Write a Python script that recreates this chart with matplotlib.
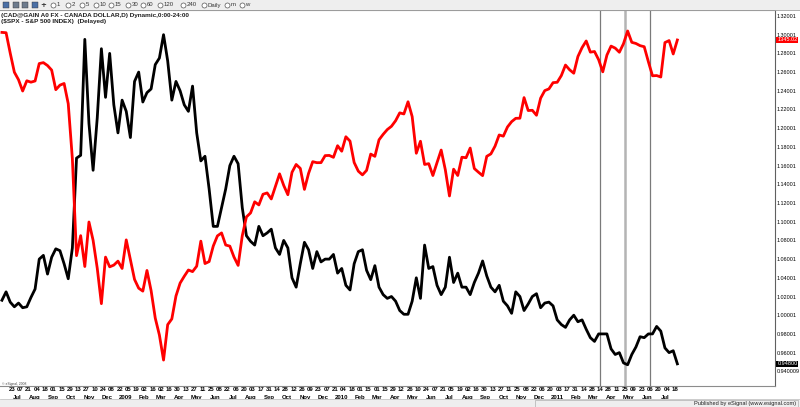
import numpy as np
import pandas as pd
import matplotlib
matplotlib.use("Agg")
import matplotlib.pyplot as plt
import matplotlib.dates as mdates
from matplotlib.patches import Rectangle
from matplotlib.lines import Line2D

# weekly closes, Fridays 2008-06-06 .. 2011-07-22
weeks = pd.date_range("2008-06-06", "2011-07-22", freq="W-FRI")

# USD/CAD (black, right axis)
cad_2008 = [1.0160, 1.0250, 1.0140, 1.0090,
            1.0130, 1.0080, 1.0090, 1.0190,
            1.0280, 1.0600, 1.0640, 1.0440, 1.0620,
            1.0710, 1.0690, 1.0550, 1.0390,
            1.0720, 1.1680, 1.1710, 1.2950, 1.2050,
            1.1550, 1.2110, 1.2850, 1.2330,
            1.2800, 1.2250, 1.1950, 1.2300]
cad_2009 = [1.2180, 1.1900, 1.2500, 1.2600, 1.2280,
            1.2380, 1.2420, 1.2680, 1.2750,
            1.3000, 1.2720, 1.2300, 1.2500,
            1.2400, 1.2250, 1.2180, 1.2450,
            1.1950, 1.1650, 1.1700, 1.1350, 1.0950,
            1.0950, 1.1150, 1.1350, 1.1600,
            1.1700, 1.1620, 1.1150, 1.0850, 1.0790,
            1.0750, 1.0950, 1.0850, 1.0880,
            1.0920, 1.0720, 1.0650, 1.0800,
            1.0720, 1.0400, 1.0300, 1.0550, 1.0780,
            1.0700, 1.0500, 1.0680, 1.0570,
            1.0600, 1.0600, 1.0650, 1.0450]
cad_2010 = [1.0500, 1.0320, 1.0270, 1.0550, 1.0680,
            1.0700, 1.0480, 1.0380, 1.0530,
            1.0300, 1.0220, 1.0180, 1.0200,
            1.0150, 1.0050, 1.0010, 1.0010, 1.0150,
            1.0400, 1.0180, 1.0750, 1.0500,
            1.0520, 1.0320, 1.0220, 1.0300,
            1.0620, 1.0350, 1.0450, 1.0300, 1.0300,
            1.0220, 1.0350, 1.0450, 1.0580,
            1.0420, 1.0300, 1.0250, 1.0320,
            1.0150, 1.0100, 1.0020, 1.0250, 1.0200,
            1.0050, 1.0120, 1.0200, 1.0230,
            1.0080, 1.0130, 1.0140, 1.0100, 0.9950]
cad_2011 = [0.9900, 0.9870, 0.9950, 1.0000,
            0.9930, 0.9950, 0.9850, 0.9760,
            0.9720, 0.9800, 0.9800, 0.9800,
            0.9640, 0.9580, 0.9600, 0.9490, 0.9470,
            0.9580, 0.9660, 0.9770, 0.9760,
            0.9800, 0.9800, 0.9880, 0.9830,
            0.9650, 0.9600, 0.9620, 0.9480]

# S&P 500 (red, overlay scale)
spx_2008 = [1360.7, 1360.0, 1317.9, 1278.4,
            1262.9, 1239.5, 1260.7, 1257.8,
            1260.3, 1296.3, 1298.2, 1292.2, 1282.8,
            1242.3, 1251.7, 1255.1, 1213.3,
            1099.2, 899.2, 940.6, 876.8, 968.8,
            931.0, 873.3, 800.0, 896.2,
            876.1, 879.7, 887.9, 872.8]
spx_2009 = [931.8, 890.4, 850.1, 832.0, 825.9,
            868.6, 826.8, 770.1, 735.1,
            683.4, 756.6, 768.5, 815.9,
            842.5, 856.6, 869.6, 866.2,
            877.5, 929.2, 882.9, 887.0, 919.1,
            940.1, 946.2, 921.2, 918.9,
            896.4, 879.1, 940.4, 979.3, 987.5,
            1010.5, 1004.1, 1026.1, 1028.9,
            1016.4, 1042.7, 1068.3, 1044.4,
            1025.2, 1071.5, 1087.7, 1079.6, 1036.2,
            1069.3, 1093.5, 1091.4, 1091.5,
            1106.0, 1106.4, 1102.5, 1126.5]
spx_2010 = [1115.1, 1145.0, 1136.0, 1091.8, 1073.9,
            1066.2, 1075.5, 1109.2, 1104.5,
            1138.7, 1150.0, 1159.9, 1166.6,
            1178.1, 1194.4, 1192.1, 1217.3, 1186.7,
            1110.9, 1135.7, 1087.7, 1089.4,
            1064.9, 1091.6, 1117.5, 1076.8,
            1022.6, 1078.0, 1064.9, 1102.7, 1101.6,
            1121.6, 1079.3, 1071.7, 1064.6,
            1104.5, 1109.6, 1125.6, 1148.7,
            1146.2, 1165.2, 1176.2, 1183.1, 1183.3,
            1225.9, 1199.2, 1199.7, 1189.4,
            1224.7, 1240.4, 1243.9, 1256.8, 1257.6]
spx_2011 = [1271.5, 1293.2, 1283.4, 1276.3,
            1310.9, 1329.2, 1343.0, 1319.9,
            1321.2, 1304.3, 1279.2, 1313.8,
            1332.4, 1328.2, 1319.7, 1337.4, 1363.6,
            1340.2, 1337.8, 1333.3, 1331.1,
            1300.2, 1271.0, 1271.5, 1268.5,
            1339.7, 1343.8, 1316.1, 1345.02]

cad = cad_2008 + cad_2009 + cad_2010 + cad_2011
spx = spx_2008 + spx_2009 + spx_2010 + spx_2011

ytick_vals = [1.32001, 1.30001, 1.28001, 1.26001, 1.24001, 1.22001, 1.20001,
              1.18001, 1.16001, 1.14001, 1.12001, 1.10001, 1.08001, 1.06001,
              1.04001, 1.02001, 1.00001, 0.98001, 0.96001, 0.940009]
ytick_labels = ["1.32001", "1.30001", "1.28001", "1.26001", "1.24001", "1.22001",
                "1.20001", "1.18001", "1.16001", "1.14001", "1.12001", "1.10001",
                "1.08001", "1.06001", "1.04001", "1.02001", "1.00001", "0.98001",
                "0.96001", "0.940009"]
marker_dates = ["2011-03-14", "2011-04-25", "2011-06-06"]
toolbar_items = ["1", "2", "5", "10", "15", "30", "60", "120", "240", "Daily", "m", "w"]

W, H = 800, 407
fig = plt.figure(figsize=(8, 4.07), dpi=100)
fig.patch.set_facecolor("white")
FONT = "Liberation Sans"


def fx(px):
    return px / W


def fy(py):
    return 1 - py / H


top, bot, right = 10, 386, 775
ax = fig.add_axes([0, fy(bot), fx(right), (bot - top) / H])
ax.set_facecolor("white")

ax.plot(weeks, cad, color="black", lw=2.0)
ax.set_ylim(0.9243, 1.3264)

# x scale: Jun 23 2008 at x=12, Jul 18 2011 at x=675
d0 = mdates.date2num(pd.Timestamp("2008-06-23"))
d1 = mdates.date2num(pd.Timestamp("2011-07-18"))
ppd = (675 - 12) / (d1 - d0)
ax.set_xlim(d0 - 12 / ppd, d1 + (right - 675) / ppd)

for i, d in enumerate(marker_dates):
    if i == 1:
        ax.axvline(pd.Timestamp(d), color="#b4b4b4", lw=1.8, zorder=0)
    else:
        ax.axvline(pd.Timestamp(d), color="#7a7a7a", lw=0.9, zorder=0)

ax2 = ax.twinx()
ax2.plot(weeks, spx, color="#ff0000", lw=2.0)
ax2.set_ylim(629.8, 1407.0)
ax2.set_yticks([])
ax2.set_xlim(ax.get_xlim())
for s in ax2.spines.values():
    s.set_visible(False)

ax.yaxis.tick_right()
ax.set_yticks(ytick_vals)
ax.set_yticklabels(ytick_labels, fontsize=3.9, family=FONT)
ax.tick_params(axis="y", length=0, pad=1.0)

# date labels: day numbers every two weeks, month names below
major = pd.date_range("2008-06-23", "2011-07-18", freq="14D")
minor = pd.date_range("2008-07-01", "2011-07-01", freq="MS")
ax.xaxis.remove_overlapping_locs = False
ax.set_xticks(major)
ax.set_xticklabels([d.strftime("%d") for d in major], fontsize=4.3,
                   family=FONT, fontweight="bold")
ax.set_xticks(minor, minor=True)
ax.set_xticklabels([str(d.year) if d.month == 1 else d.strftime("%b") for d in minor],
                   minor=True, fontsize=4.3, family=FONT, fontweight="bold")
ax.tick_params(axis="x", which="major", length=0, pad=0.8)
ax.tick_params(axis="x", which="minor", length=0, pad=6.2)

ax.spines["left"].set_visible(False)
ax.spines["top"].set_color("#8c8c8c")
ax.spines["bottom"].set_color("#8c8c8c")
ax.spines["right"].set_color("#606060")
for s in ax.spines.values():
    s.set_linewidth(0.8)

# value flags on the right axis
ax.annotate("1345.02", xy=(1.003, (1345.02 - 629.8) / (1407.0 - 629.8)),
            xycoords="axes fraction", fontsize=4.0, family=FONT, color="white",
            va="center", ha="left",
            bbox=dict(boxstyle="square,pad=0.15", fc="#ff0000", ec="none"))
ax.annotate("0.94800", xy=(1.003, (0.948 - 0.9243) / (1.3264 - 0.9243)),
            xycoords="axes fraction", fontsize=4.0, family=FONT, color="white",
            va="center", ha="left",
            bbox=dict(boxstyle="square,pad=0.15", fc="black", ec="none"))

# titles
fig.text(fx(1), fy(15), "(CAD@GAIN A0 FX - CANADA DOLLAR,D) Dynamic,0:00-24:00",
         fontsize=4.6, family=FONT, fontweight="bold", va="center", color="#202020")
fig.text(fx(1), fy(21.5), "($SPX - S&P 500 INDEX)  (Delayed)",
         fontsize=4.6, family=FONT, fontweight="bold", va="center", color="#202020")
fig.text(fx(2), fy(383.5), "\u00a9 eSignal, 2008", fontsize=2.4, family=FONT,
         va="center", color="#404040")

# toolbar
fig.add_artist(Rectangle((0, fy(9.5)), 1, 9.5 / H, transform=fig.transFigure,
                         fc="#eeeeee", ec="none"))
fig.add_artist(Line2D([0, 1], [fy(9.5), fy(9.5)], transform=fig.transFigure,
                      color="#a0a0a0", lw=0.6))
icon_cols = ["#4a6fa5", "#6d7b8d", "#6d7b8d", "#4a6fa5"]
for i, c in enumerate(icon_cols):
    fig.add_artist(Rectangle((fx(3 + i * 9.5), fy(8)), 6 / W, 6 / H,
                             transform=fig.transFigure, fc=c, ec="#333333", lw=0.3))
fig.text(fx(43), fy(5), "+", fontsize=5, fontweight="bold", va="center",
         ha="center", color="#333333")
circle_x = [53, 68, 82, 96, 111, 128, 143, 160, 183, 204, 227, 242]
for cxp, lab in zip(circle_x, toolbar_items):
    fig.add_artist(Line2D([fx(cxp)], [fy(5)], transform=fig.transFigure, marker="o",
                          ms=3.6, mfc="white", mec="#555555", mew=0.5))
    fig.text(fx(cxp + 3.5), fy(5), lab, fontsize=4.3, family=FONT, va="center",
             color="#333333")

# status bar
fig.add_artist(Rectangle((0, 0), 1, 8 / H, transform=fig.transFigure,
                         fc="#eeeeee", ec="none"))
fig.add_artist(Line2D([0, 1], [fy(399), fy(399)], transform=fig.transFigure,
                      color="#c0c0c0", lw=0.5))
fig.add_artist(Rectangle((fx(535), fy(406.5)), 263 / W, 6.5 / H,
                         transform=fig.transFigure, fc="none", ec="#a0a0a0", lw=0.4))
fig.text(fx(796), fy(403), "Published by eSignal (www.esignal.com)", fontsize=4.1,
         family=FONT, ha="right", va="center", color="#202020")

fig.savefig("out.png", dpi=100)
